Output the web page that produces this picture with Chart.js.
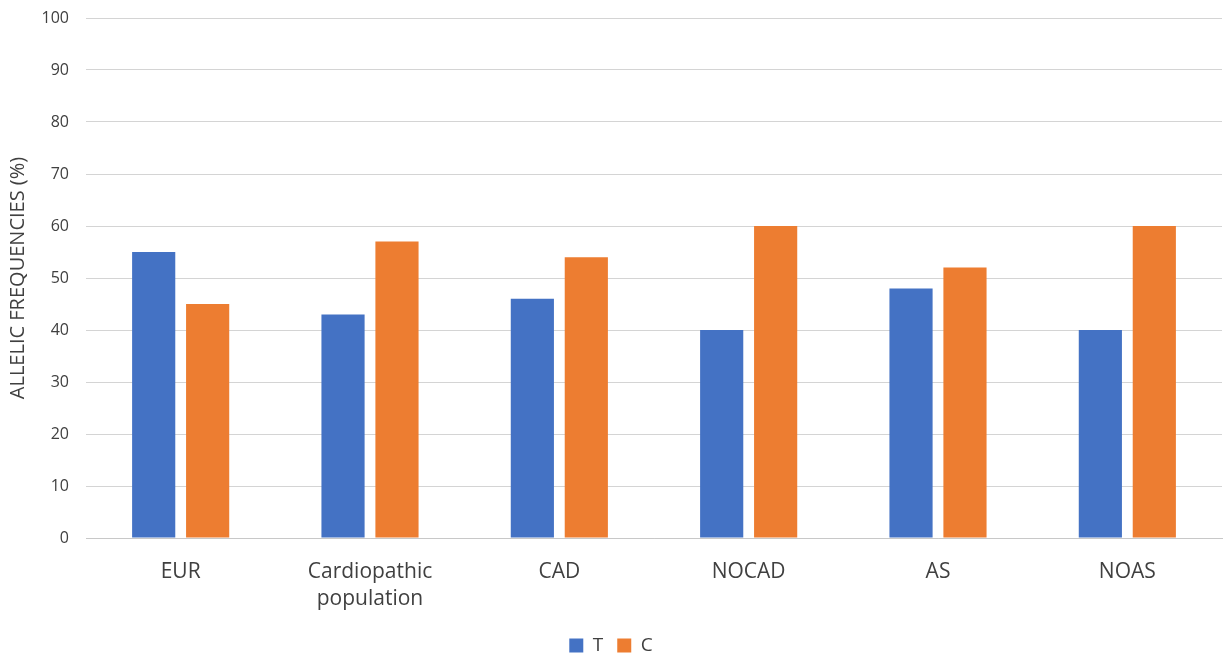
<!DOCTYPE html>
<html>
<head>
<meta charset="utf-8">
<script src="https://cdn.jsdelivr.net/npm/chart.js@4/dist/chart.umd.min.js"></script>
<style>
  html, body { margin: 0; padding: 0; background: #fff; }
  #wrap { width: 1226px; height: 654px; }
</style>
</head>
<body>
<div id="wrap"><canvas id="chart"></canvas></div>
<script>
// allelic frequencies by group
const categories = ['EUR', ['Cardiopathic', 'population'], 'CAD', 'NOCAD', 'AS', 'NOAS'];
const seriesNames = ['T', 'C'];
const tValues = [55, 43, 46, 40, 48, 40];
const cValues = [45, 57, 54, 60, 52, 60];
const yTicks = [0, 10, 20, 30, 40, 50, 60, 70, 80, 90, 100];

const fontFamily = '"Open Sans", "Noto Sans", sans-serif';
const textColor = '#404040';

const ctx = document.getElementById('chart').getContext('2d');
new Chart(ctx, {
  type: 'bar',
  data: {
    labels: categories,
    datasets: [
      { label: seriesNames[0], data: tValues, backgroundColor: '#4472C4', borderWidth: 0 },
      { label: seriesNames[1], data: cValues, backgroundColor: '#ED7D31', borderWidth: 0 }
    ]
  },
  options: {
    responsive: true,
    maintainAspectRatio: false,
    animation: false,
    layout: { padding: { top: 18, right: 4, left: 0, bottom: -11 } },
    datasets: { bar: { categoryPercentage: 0.57, barPercentage: 0.8 } },
    plugins: {
      legend: {
        position: 'bottom',
        labels: {
          font: { family: fontFamily, size: 19 },
          color: textColor,
          boxWidth: 14,
          boxHeight: 14,
          padding: 14
        }
      },
      tooltip: { enabled: false }
    },
    scales: {
      x: {
        grid: { display: false },
        border: { color: '#c8c8c8' },
        ticks: {
          font: { family: fontFamily, size: 21, lineHeight: 1.3 },
          color: textColor,
          padding: 12,
          maxRotation: 0
        },
        afterFit: scale => { scale.height = 84; }
      },
      y: {
        min: 0,
        max: 100,
        afterBuildTicks: scale => { scale.ticks = yTicks.map(v => ({ value: v })); },
        grid: { color: '#d4d4d4', drawTicks: false },
        border: { display: false },
        ticks: {
          font: { family: fontFamily, size: 16 },
          color: textColor,
          padding: 17
        },
        title: {
          display: true,
          text: 'ALLELIC FREQUENCIES (%)',
          font: { family: fontFamily, size: 20 },
          color: textColor,
          padding: { top: 6, bottom: 0 }
        },
        afterFit: scale => {
          scale.width = 86;
          scale.paddingTop = 0;
          scale.paddingBottom = 0;
        }
      }
    }
  }
});
</script>
</body>
</html>
